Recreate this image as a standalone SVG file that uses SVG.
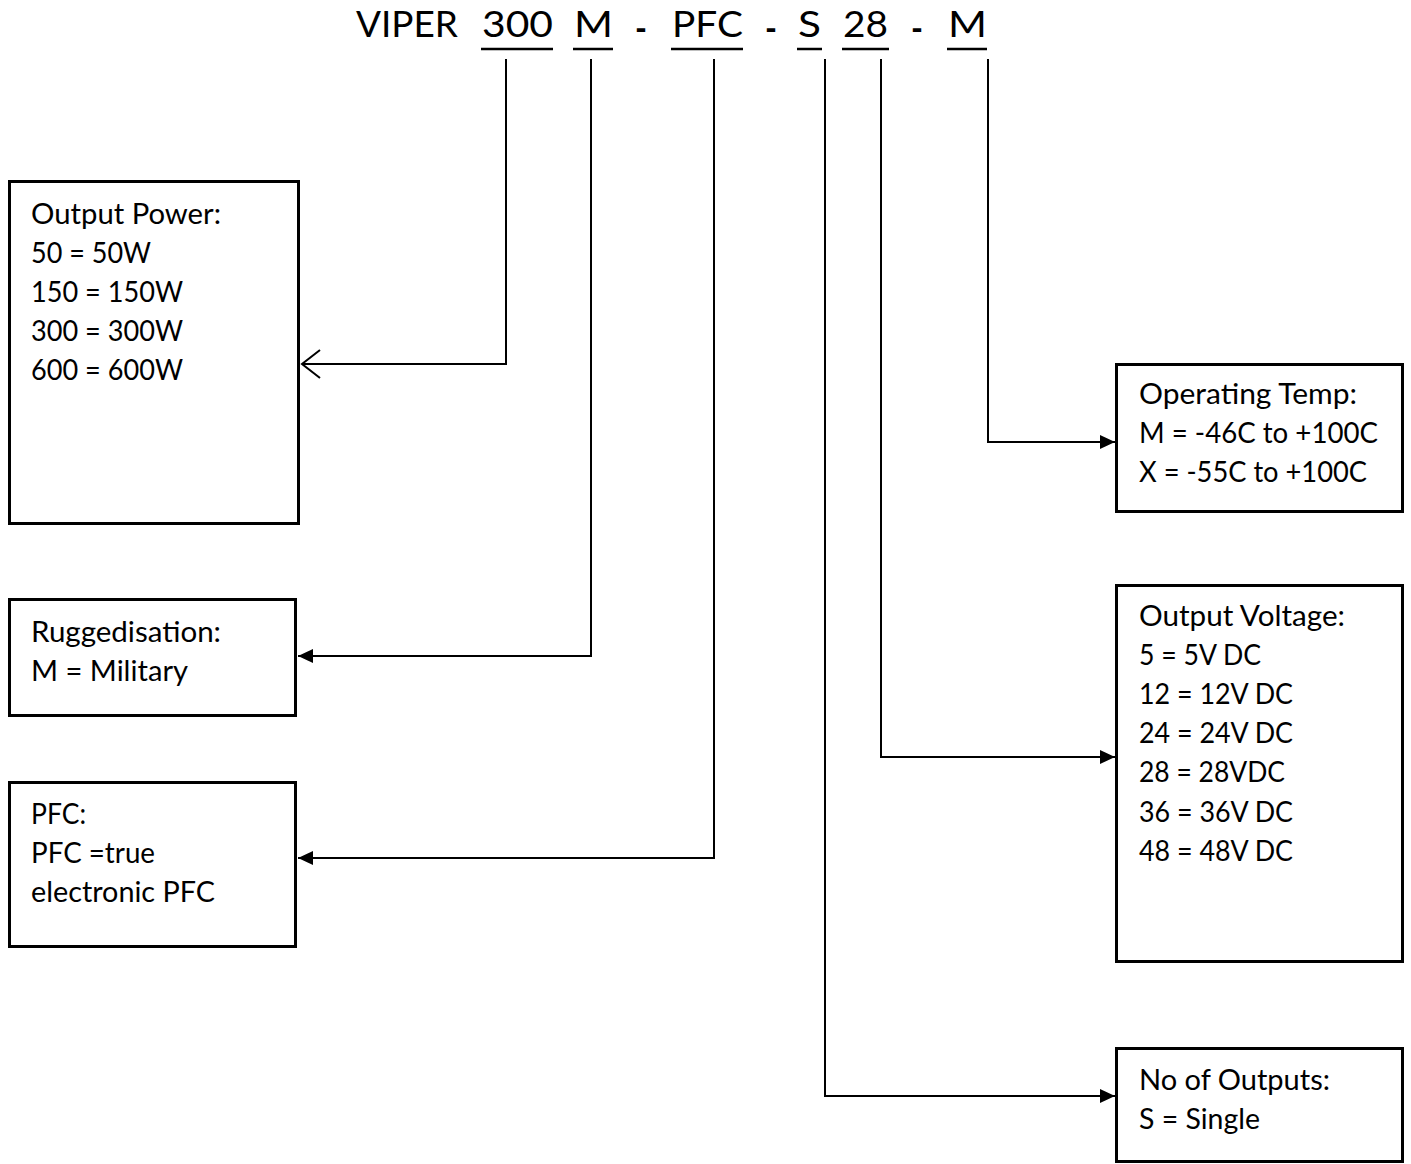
<svg xmlns="http://www.w3.org/2000/svg" width="1411" height="1164" viewBox="0 0 1411 1164">
<style>
.t{font-family:Lato,"Liberation Sans",sans-serif;font-size:28px;fill:#000}
.h{font-family:Lato,"Liberation Sans",sans-serif;font-size:37px;fill:#000}
.d{font-family:Lato,"Liberation Sans",sans-serif;font-size:37px;font-weight:bold;fill:#000}
.box{fill:#fff;stroke:#000;stroke-width:3}
.c{fill:none;stroke:#000;stroke-width:2}
.u{stroke:#000;stroke-width:2.5}
</style>
<defs>
<marker id="fa" markerUnits="userSpaceOnUse" markerWidth="16" markerHeight="14" refX="15" refY="7" orient="auto" overflow="visible"><path d="M0,0 L15,7 L0,14 z" fill="#000"/></marker>
<marker id="oa" markerUnits="userSpaceOnUse" markerWidth="20" markerHeight="30" refX="18" refY="14" orient="auto" overflow="visible"><path d="M0,0 L18,14 L0,28" fill="none" stroke="#000" stroke-width="2"/></marker>
</defs>
<rect width="1411" height="1164" fill="#fff"/>
<g id="title">
<text class="h" x="356" y="37" textLength="102" lengthAdjust="spacingAndGlyphs">VIPER</text>
<text class="h" x="482" y="37" textLength="71" lengthAdjust="spacingAndGlyphs">300</text>
<text class="h" x="574" y="37" textLength="39" lengthAdjust="spacingAndGlyphs">M</text>
<text class="d" x="635" y="41" textLength="12" lengthAdjust="spacingAndGlyphs">-</text>
<text class="h" x="672" y="37" textLength="71" lengthAdjust="spacingAndGlyphs">PFC</text>
<text class="d" x="765" y="41" textLength="12" lengthAdjust="spacingAndGlyphs">-</text>
<text class="h" x="798" y="37" textLength="23" lengthAdjust="spacingAndGlyphs">S</text>
<text class="h" x="843" y="37" textLength="45" lengthAdjust="spacingAndGlyphs">28</text>
<text class="d" x="911" y="41" textLength="12" lengthAdjust="spacingAndGlyphs">-</text>
<text class="h" x="948" y="37" textLength="39" lengthAdjust="spacingAndGlyphs">M</text>
<line class="u" x1="481" y1="49" x2="553" y2="49"/>
<line class="u" x1="573" y1="49" x2="613" y2="49"/>
<line class="u" x1="671" y1="49" x2="743" y2="49"/>
<line class="u" x1="797" y1="49" x2="822" y2="49"/>
<line class="u" x1="842" y1="49" x2="889" y2="49"/>
<line class="u" x1="947" y1="49" x2="987" y2="49"/>
</g>
<g id="connectors">
<path class="c" d="M506,59 V364 H302" marker-end="url(#oa)"/>
<path class="c" d="M591,59 V656 H298" marker-end="url(#fa)"/>
<path class="c" d="M714,59 V858 H298" marker-end="url(#fa)"/>
<path class="c" d="M988,59 V442 H1115" marker-end="url(#fa)"/>
<path class="c" d="M881,59 V757 H1115" marker-end="url(#fa)"/>
<path class="c" d="M825,59 V1096 H1115" marker-end="url(#fa)"/>
</g>
<g id="output-power">
<rect class="box" x="9.5" y="181.5" width="289" height="342"/>
<text class="t" x="31" y="224" textLength="190" lengthAdjust="spacingAndGlyphs">Output Power:</text>
<text class="t" x="31" y="263" textLength="120" lengthAdjust="spacingAndGlyphs">50 = 50W</text>
<text class="t" x="31" y="302" textLength="152" lengthAdjust="spacingAndGlyphs">150 = 150W</text>
<text class="t" x="31" y="341" textLength="152" lengthAdjust="spacingAndGlyphs">300 = 300W</text>
<text class="t" x="31" y="380" textLength="152" lengthAdjust="spacingAndGlyphs">600 = 600W</text>
</g>
<g id="ruggedisation">
<rect class="box" x="9.5" y="599.5" width="286" height="116"/>
<text class="t" x="31" y="642" textLength="190" lengthAdjust="spacingAndGlyphs">Ruggedisation:</text>
<text class="t" x="31" y="681" textLength="157" lengthAdjust="spacingAndGlyphs">M = Military</text>
</g>
<g id="pfc">
<rect class="box" x="9.5" y="782.5" width="286" height="164"/>
<text class="t" x="31" y="824" textLength="55" lengthAdjust="spacingAndGlyphs">PFC:</text>
<text class="t" x="31" y="863" textLength="124" lengthAdjust="spacingAndGlyphs">PFC =true</text>
<text class="t" x="31" y="902" textLength="184" lengthAdjust="spacingAndGlyphs">electronic PFC</text>
</g>
<g id="operating-temp">
<rect class="box" x="1116.5" y="364.5" width="286" height="147"/>
<text class="t" x="1139" y="404" textLength="218" lengthAdjust="spacingAndGlyphs">Operating Temp:</text>
<text class="t" x="1139" y="443" textLength="239" lengthAdjust="spacingAndGlyphs">M = -46C to +100C</text>
<text class="t" x="1139" y="482" textLength="228" lengthAdjust="spacingAndGlyphs">X = -55C to +100C</text>
</g>
<g id="output-voltage">
<rect class="box" x="1116.5" y="585.5" width="286" height="376"/>
<text class="t" x="1139" y="626" textLength="206" lengthAdjust="spacingAndGlyphs">Output Voltage:</text>
<text class="t" x="1139" y="665" textLength="122" lengthAdjust="spacingAndGlyphs">5 = 5V DC</text>
<text class="t" x="1139" y="704" textLength="154" lengthAdjust="spacingAndGlyphs">12 = 12V DC</text>
<text class="t" x="1139" y="743" textLength="154" lengthAdjust="spacingAndGlyphs">24 = 24V DC</text>
<text class="t" x="1139" y="782" textLength="146" lengthAdjust="spacingAndGlyphs">28 = 28VDC</text>
<text class="t" x="1139" y="822" textLength="154" lengthAdjust="spacingAndGlyphs">36 = 36V DC</text>
<text class="t" x="1139" y="861" textLength="154" lengthAdjust="spacingAndGlyphs">48 = 48V DC</text>
</g>
<g id="no-of-outputs">
<rect class="box" x="1116.5" y="1048.5" width="286" height="113"/>
<text class="t" x="1139" y="1090" textLength="191" lengthAdjust="spacingAndGlyphs">No of Outputs:</text>
<text class="t" x="1139" y="1129" textLength="121" lengthAdjust="spacingAndGlyphs">S = Single</text>
</g>
</svg>
